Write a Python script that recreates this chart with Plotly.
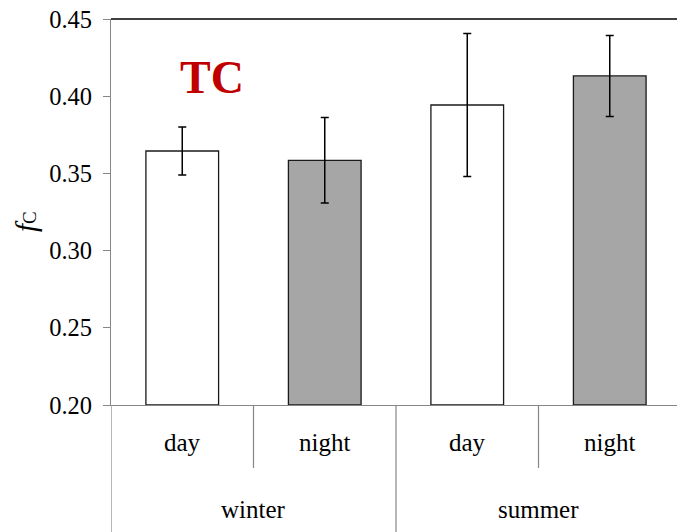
import plotly.graph_objects as go

seasons = ["winter", "winter", "summer", "summer"]
periods = ["day", "night", "day", "night"]
values = [0.3645, 0.3585, 0.3943, 0.4131]
errors = [0.0155, 0.0277, 0.0463, 0.0262]
fills = ["#FFFFFF", "#A6A6A6", "#FFFFFF", "#A6A6A6"]
y_ticks = [0.20, 0.25, 0.30, 0.35, 0.40, 0.45]
y_tick_labels = ["0.20", "0.25", "0.30", "0.35", "0.40", "0.45"]
label_text = "TC"

FONT = "Liberation Serif, Times New Roman, serif"
GRAY = "#868686"
pos = list(range(len(values)))

PL, PT, PB = 111, 19, 405      # plot-area pixel edges in the window
PW = 677 - PL
PH = PB - PT
CAT_W = 142.5

fig = go.Figure()
fig.add_trace(go.Bar(
    x=pos, y=[v - 0.2 for v in values], base=0.2, width=0.51,
    marker=dict(color=fills, line=dict(color="#1a1a1a", width=1.3)),
    error_y=dict(type="data", array=errors, color="#000000", thickness=1.5, width=4),
    showlegend=False, hoverinfo="skip",
))

shapes = []
shapes.append(dict(type="line", xref="paper", yref="paper", x0=0, x1=1, y0=1, y1=1,
                   line=dict(color="#000000", width=1.3)))
for i in range(len(pos) + 1):
    xb = i - 0.5
    if i == 0 or (i < len(pos) and seasons[i] != seasons[i - 1]):
        y1 = -(532 - PB) / PH
    else:
        y1 = -63 / PH
    shapes.append(dict(type="line", xref="x", yref="paper", x0=xb, x1=xb, y0=0, y1=y1,
                       line=dict(color=GRAY, width=1.2)))

annotations = []
for p, lab in zip(pos, periods):
    annotations.append(dict(x=p, y=-38 / PH, xref="x", yref="paper", text=lab, showarrow=False,
                            font=dict(family=FONT, size=25, color="#000000"),
                            xanchor="center", yanchor="middle"))
groups = {}
for p, s in zip(pos, seasons):
    groups.setdefault(s, []).append(p)
for s, ps in groups.items():
    annotations.append(dict(x=sum(ps) / len(ps), y=-104 / PH, xref="x", yref="paper", text=s,
                            showarrow=False, font=dict(family=FONT, size=25, color="#000000"),
                            xanchor="center", yanchor="middle"))
annotations.append(dict(x=0.209, y=0.4124, xref="x", yref="y", text="<b>" + label_text + "</b>",
                        showarrow=False, font=dict(family=FONT, size=46, color="#C00000"),
                        xanchor="center", yanchor="middle"))
annotations.append(dict(x=(26 - PL) / PW, y=(PB - 222) / PH, xref="paper", yref="paper",
                        text="<i>f</i><span style='font-size:19px'>C</span>", textangle=-90,
                        showarrow=False, font=dict(family=FONT, size=29, color="#000000"),
                        xanchor="center", yanchor="middle"))

fig.update_layout(
    width=677, height=532,
    margin=dict(l=PL, r=0, t=PT, b=532 - PB),
    paper_bgcolor="#FFFFFF", plot_bgcolor="#FFFFFF",
    xaxis=dict(range=[-0.5, -0.5 + PW / CAT_W], showticklabels=False, showgrid=False,
               zeroline=False, showline=True, linecolor=GRAY, linewidth=1.2, ticks=""),
    yaxis=dict(range=[0.2, 0.45], tickvals=y_ticks, ticktext=y_tick_labels, showgrid=False,
               zeroline=False, showline=True, linecolor=GRAY, linewidth=1.2,
               ticks="outside", ticklen=7, tickcolor=GRAY, tickwidth=1.2,
               tickfont=dict(family=FONT, size=24.5, color="#000000"), ticklabelstandoff=6),
    shapes=shapes, annotations=annotations,
)
fig.write_html("out.html", config={"displayModeBar": False},
               post_script="document.body.style.margin='0';document.body.style.padding='0';")
